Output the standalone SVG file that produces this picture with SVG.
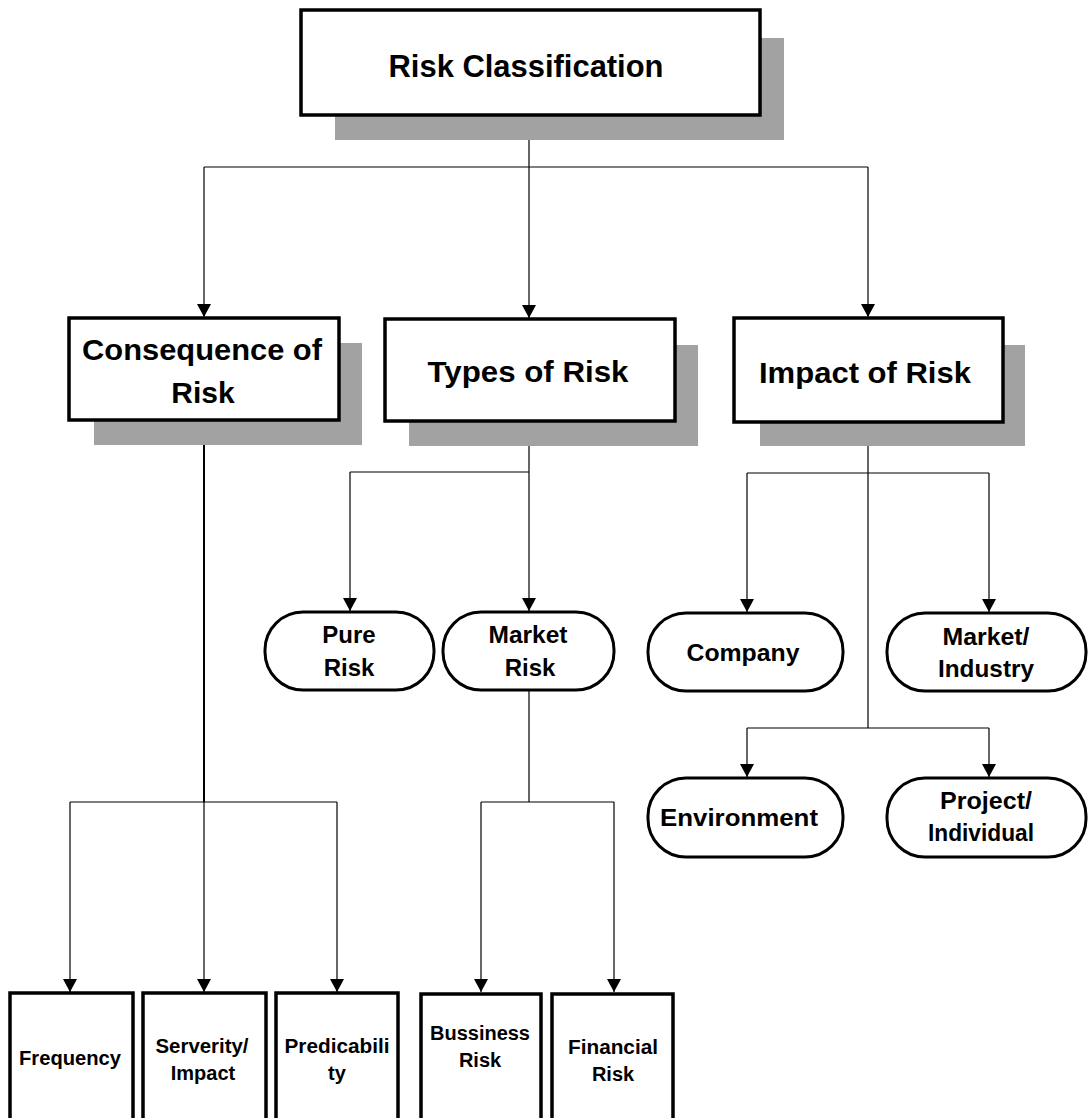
<svg xmlns="http://www.w3.org/2000/svg" width="1089" height="1118" viewBox="0 0 1089 1118">
<defs>
<marker id="arr" viewBox="0 0 13 14" refX="13" refY="7" markerWidth="13" markerHeight="14" markerUnits="userSpaceOnUse" orient="auto">
<path d="M0,0 L13,7 L0,14 z" fill="#000"/>
</marker>
<style>
.shadow{fill:#a2a2a2}
.box{fill:#fff;stroke:#000;stroke-width:3.5}
.pill{fill:#fff;stroke:#000;stroke-width:3}
.conn{fill:none;stroke:#000;stroke-width:1.2}
.arrow{fill:none;stroke:#000;stroke-width:1.2;marker-end:url(#arr)}
text{font-family:"Liberation Sans",Arial,sans-serif;font-weight:bold;text-anchor:middle;fill:#000}
.t1{font-size:31px}
.t2{font-size:30px}
.t3{font-size:24px}
.t4{font-size:20px}
</style>
</defs>
<rect width="1089" height="1118" fill="#fff"/>

<g id="connectors">
<path class="conn" d="M529,115 V167 M204,167 H868"/>
<path class="arrow" d="M204,167 V317"/>
<path class="arrow" d="M529,167 V318"/>
<path class="arrow" d="M868,167 V317"/>
<path class="conn" d="M204,421 V802" style="stroke-width:2"/>
<path class="conn" d="M70,802 H337"/>
<path class="arrow" d="M70,802 V992"/>
<path class="arrow" d="M204,802 V992"/>
<path class="arrow" d="M337,802 V992"/>
<path class="conn" d="M529,421 V472 M350,472 H529"/>
<path class="arrow" d="M350,472 V611"/>
<path class="arrow" d="M529,472 V611"/>
<path class="conn" d="M529,690 V802 M481,802 H614"/>
<path class="arrow" d="M481,802 V992"/>
<path class="arrow" d="M614,802 V992"/>
<path class="conn" d="M868,422 V728 M747,473 H989 M747,728 H989"/>
<path class="arrow" d="M747,473 V612"/>
<path class="arrow" d="M989,473 V612"/>
<path class="arrow" d="M747,728 V777"/>
<path class="arrow" d="M989,728 V777"/>
</g>

<g id="risk-classification">
<rect class="shadow" x="335" y="38" width="449" height="102"/>
<rect class="box" x="301" y="10" width="459" height="105"/>
<text class="t1" x="526" y="77" textLength="275" lengthAdjust="spacingAndGlyphs">Risk Classification</text>
</g>

<g id="consequence-of-risk">
<rect class="shadow" x="94" y="343" width="268" height="102"/>
<rect class="box" x="69" y="318" width="270" height="102"/>
<text class="t2" x="202" y="360" textLength="240" lengthAdjust="spacingAndGlyphs">Consequence of</text>
<text class="t2" x="203" y="403">Risk</text>
</g>

<g id="types-of-risk">
<rect class="shadow" x="409" y="345" width="289" height="101"/>
<rect class="box" x="385" y="319" width="290" height="102"/>
<text class="t2" x="528" y="382" textLength="201" lengthAdjust="spacingAndGlyphs">Types of Risk</text>
</g>

<g id="impact-of-risk">
<rect class="shadow" x="760" y="345" width="265" height="101"/>
<rect class="box" x="734" y="318" width="269" height="104"/>
<text class="t2" x="865" y="383" textLength="212" lengthAdjust="spacingAndGlyphs">Impact of Risk</text>
</g>

<g id="pure-risk">
<rect class="pill" x="265" y="612" width="169" height="78" rx="38" ry="38"/>
<text class="t3" x="349" y="643">Pure</text>
<text class="t3" x="349" y="676">Risk</text>
</g>

<g id="market-risk">
<rect class="pill" x="443" y="612" width="171" height="78" rx="38" ry="38"/>
<text class="t3" x="528" y="643" textLength="79" lengthAdjust="spacingAndGlyphs">Market</text>
<text class="t3" x="530" y="676">Risk</text>
</g>

<g id="company">
<rect class="pill" x="648" y="613" width="195" height="78" rx="38" ry="38"/>
<text class="t3" x="743" y="661" textLength="113" lengthAdjust="spacingAndGlyphs">Company</text>
</g>

<g id="market-industry">
<rect class="pill" x="887" y="613" width="199" height="78" rx="38" ry="38"/>
<text class="t3" x="986" y="645" textLength="87" lengthAdjust="spacingAndGlyphs">Market/</text>
<text class="t3" x="986" y="677" textLength="96" lengthAdjust="spacingAndGlyphs">Industry</text>
</g>

<g id="environment">
<rect class="pill" x="648" y="778" width="195" height="79" rx="38" ry="38"/>
<text class="t3" x="739" y="826" textLength="158" lengthAdjust="spacingAndGlyphs">Environment</text>
</g>

<g id="project-individual">
<rect class="pill" x="887" y="778" width="199" height="79" rx="38" ry="38"/>
<text class="t3" x="986" y="809" textLength="92" lengthAdjust="spacingAndGlyphs">Project/</text>
<text class="t3" x="981" y="841" textLength="106" lengthAdjust="spacingAndGlyphs">Individual</text>
</g>

<g id="frequency">
<rect class="box" x="10" y="993" width="123" height="140"/>
<text class="t4" x="70" y="1065" textLength="102" lengthAdjust="spacingAndGlyphs">Frequency</text>
</g>

<g id="severity-impact">
<rect class="box" x="143" y="993" width="123" height="140"/>
<text class="t4" x="202" y="1053" textLength="93" lengthAdjust="spacingAndGlyphs">Serverity/</text>
<text class="t4" x="203" y="1080">Impact</text>
</g>

<g id="predictability">
<rect class="box" x="276" y="993" width="122" height="140"/>
<text class="t4" x="337" y="1053" textLength="105" lengthAdjust="spacingAndGlyphs">Predicabili</text>
<text class="t4" x="337" y="1080">ty</text>
</g>

<g id="business-risk">
<rect class="box" x="421" y="994" width="120" height="140"/>
<text class="t4" x="480" y="1040" textLength="100" lengthAdjust="spacingAndGlyphs">Bussiness</text>
<text class="t4" x="480" y="1067">Risk</text>
</g>

<g id="financial-risk">
<rect class="box" x="552" y="994" width="121" height="140"/>
<text class="t4" x="613" y="1054" textLength="90" lengthAdjust="spacingAndGlyphs">Financial</text>
<text class="t4" x="613" y="1081">Risk</text>
</g>
</svg>
